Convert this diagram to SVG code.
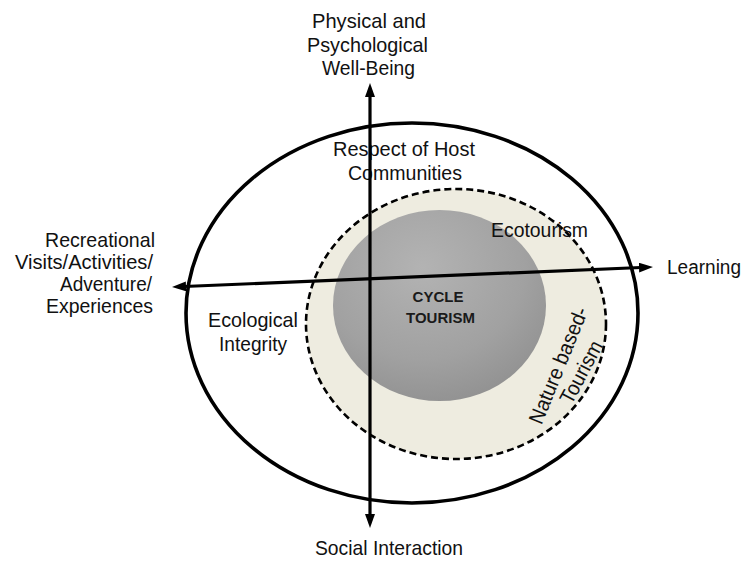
<svg xmlns="http://www.w3.org/2000/svg" width="746" height="562" viewBox="0 0 746 562">
  <style>
    text { font-family: "Liberation Sans", Arial, sans-serif; font-size: 21px; fill: #111; }
    .core-label { font-size: 15px; font-weight: bold; fill: #1a1a1a; text-anchor: middle; }
    .outer { fill: #fff; stroke: #000; stroke-width: 3.6; }
    .nature { fill: #eeece0; stroke: #000; stroke-width: 2.6; stroke-dasharray: 7 4; }
    .axis { stroke: #000; stroke-width: 3.2; fill: none; marker-start: url(#head); marker-end: url(#head); }
  </style>
  <defs>
    <marker id="head" viewBox="0 0 14 10" refX="8" refY="5" markerWidth="14" markerHeight="10" markerUnits="userSpaceOnUse" orient="auto-start-reverse">
      <path d="M0,0 L14,5 L0,10 Z" fill="#000"/>
    </marker>
    <radialGradient id="coreFill" cx="42%" cy="30%" r="80%">
      <stop offset="0" stop-color="#b3b3b3"/>
      <stop offset="0.6" stop-color="#a1a1a1"/>
      <stop offset="1" stop-color="#8d8d8d"/>
    </radialGradient>
  </defs>

  <!-- outer ring -->
  <g id="outer-ring">
    <ellipse class="outer" cx="412" cy="313" rx="226" ry="190"/>
    <text x="333" y="156" textLength="142" lengthAdjust="spacingAndGlyphs">Respect of Host</text>
    <text x="348" y="180" textLength="114" lengthAdjust="spacingAndGlyphs">Communities</text>
    <text x="208" y="327" textLength="90" lengthAdjust="spacingAndGlyphs">Ecological</text>
    <text x="219" y="351" textLength="68" lengthAdjust="spacingAndGlyphs">Integrity</text>
  </g>

  <!-- nature-based tourism ring -->
  <g id="nature-ring">
    <ellipse class="nature" cx="456" cy="324" rx="150" ry="135"/>
    <text transform="translate(541.6 425.4) rotate(-67.8)" textLength="124" lengthAdjust="spacingAndGlyphs">Nature based-</text>
    <text transform="translate(571.6 405.5) rotate(-62)" textLength="68" lengthAdjust="spacingAndGlyphs">Tourism</text>
  </g>

  <!-- cycle tourism core -->
  <g id="cycle-tourism">
    <ellipse cx="439.5" cy="305.5" rx="106.5" ry="95.5" fill="url(#coreFill)"/>
    <text class="core-label" x="438" y="302">CYCLE</text>
    <text class="core-label" x="440.5" y="323">TOURISM</text>
  </g>

  <g id="ecotourism">
    <text x="491" y="237" textLength="97" lengthAdjust="spacingAndGlyphs">Ecotourism</text>
  </g>

  <!-- axis end labels -->
  <g id="axis-wellbeing">
    <text x="312" y="28" textLength="114" lengthAdjust="spacingAndGlyphs">Physical and</text>
    <text x="307" y="51.5" textLength="121" lengthAdjust="spacingAndGlyphs">Psychological</text>
    <text x="322" y="75" textLength="93" lengthAdjust="spacingAndGlyphs">Well-Being</text>
  </g>
  <g id="axis-social">
    <text x="315" y="555" textLength="148" lengthAdjust="spacingAndGlyphs">Social Interaction</text>
  </g>
  <g id="axis-recreation">
    <text x="45" y="247" textLength="110" lengthAdjust="spacingAndGlyphs">Recreational</text>
    <text x="15" y="269" textLength="138" lengthAdjust="spacingAndGlyphs">Visits/Activities/</text>
    <text x="60" y="291" textLength="92" lengthAdjust="spacingAndGlyphs">Adventure/</text>
    <text x="46" y="313" textLength="107" lengthAdjust="spacingAndGlyphs">Experiences</text>
  </g>
  <g id="axis-learning">
    <text x="667" y="274" style="font-size:20px" textLength="74" lengthAdjust="spacingAndGlyphs">Learning</text>
  </g>

  <!-- double-headed axes -->
  <g id="connectors">
    <line class="axis" x1="370" y1="89" x2="370" y2="522"/>
    <line class="axis" x1="178" y1="286.75" x2="647" y2="267.25"/>
  </g>
</svg>
